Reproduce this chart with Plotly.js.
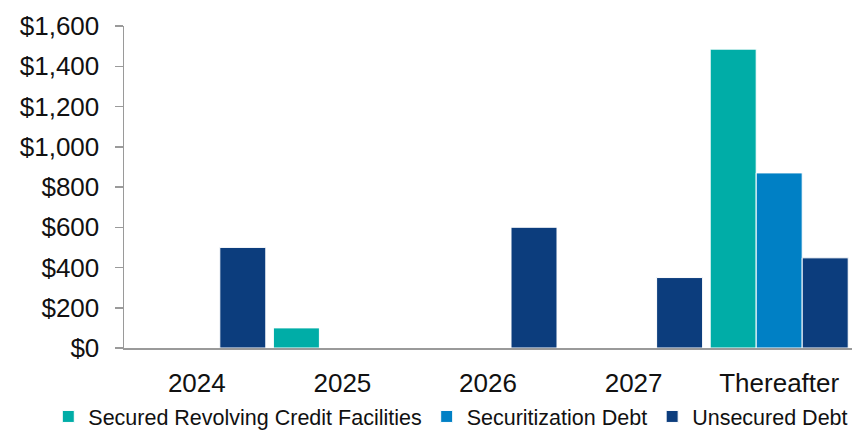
<!DOCTYPE html>
<html>
<head>
<meta charset="utf-8">
<script src="https://cdn.plot.ly/plotly-3.0.1.min.js"></script>
<style>
html,body{margin:0;padding:0;background:#fff;}
#chart{width:852px;height:430px;}
</style>
</head>
<body>
<div id="chart"></div>
<script>
const categories = ["2024", "2025", "2026", "2027", "Thereafter"];
const securedRevolving = [null, 100, null, null, 1485];
const securitization = [null, null, null, null, 870];
const unsecured = [500, null, 600, 350, 448];
const yTickVals = [0, 200, 400, 600, 800, 1000, 1200, 1400, 1600];
const yTickText = ["$0", "$200", "$400", "$600", "$800", "$1,000", "$1,200", "$1,400", "$1,600"];

const seriesNames = ["Secured Revolving Credit Facilities", "Securitization Debt", "Unsecured Debt"];
const seriesColors = ["#00ADA7", "#0080C5", "#0C3D7D"];
const seriesValues = [securedRevolving, securitization, unsecured];

const traces = seriesValues.map((vals, i) => ({
  type: "bar",
  name: seriesNames[i],
  x: categories,
  y: vals,
  marker: {color: seriesColors[i], line: {color: "#ffffff", width: 1}},
  hoverinfo: "skip"
}));

const layout = {
  width: 852,
  height: 430,
  margin: {l: 124, r: 0, t: 26, b: 82, pad: 0, autoexpand: false},
  paper_bgcolor: "#ffffff",
  plot_bgcolor: "#ffffff",
  barmode: "group",
  bargap: 0.052,
  bargroupgap: 0,
  font: {family: "Liberation Sans, Arial, sans-serif", color: "#111111"},
  showlegend: true,
  legend: {
    orientation: "h",
    x: -0.104, xanchor: "left",
    y: -0.149, yanchor: "top",
    font: {size: 21.5, color: "#111111"},
    itemwidth: 30,
    tracegroupgap: 0,
    bgcolor: "rgba(0,0,0,0)"
  },
  xaxis: {
    type: "category",
    showgrid: false,
    zeroline: false,
    showline: true,
    linecolor: "#9a9a9a",
    linewidth: 1.5,
    ticks: "",
    ticklabelstandoff: 11,
    tickfont: {size: 26, color: "#111111"},
    fixedrange: true
  },
  yaxis: {
    range: [0, 1600],
    tickmode: "array",
    tickvals: yTickVals,
    ticktext: yTickText,
    showgrid: false,
    zeroline: false,
    showline: true,
    linecolor: "#9a9a9a",
    linewidth: 1.5,
    ticks: "outside",
    ticklen: 8,
    tickcolor: "#9a9a9a",
    tickwidth: 1.5,
    ticklabelstandoff: 10,
    tickfont: {size: 26, color: "#111111"},
    fixedrange: true
  }
};

Plotly.newPlot("chart", traces, layout, {displayModeBar: false, staticPlot: true});
</script>
</body>
</html>
